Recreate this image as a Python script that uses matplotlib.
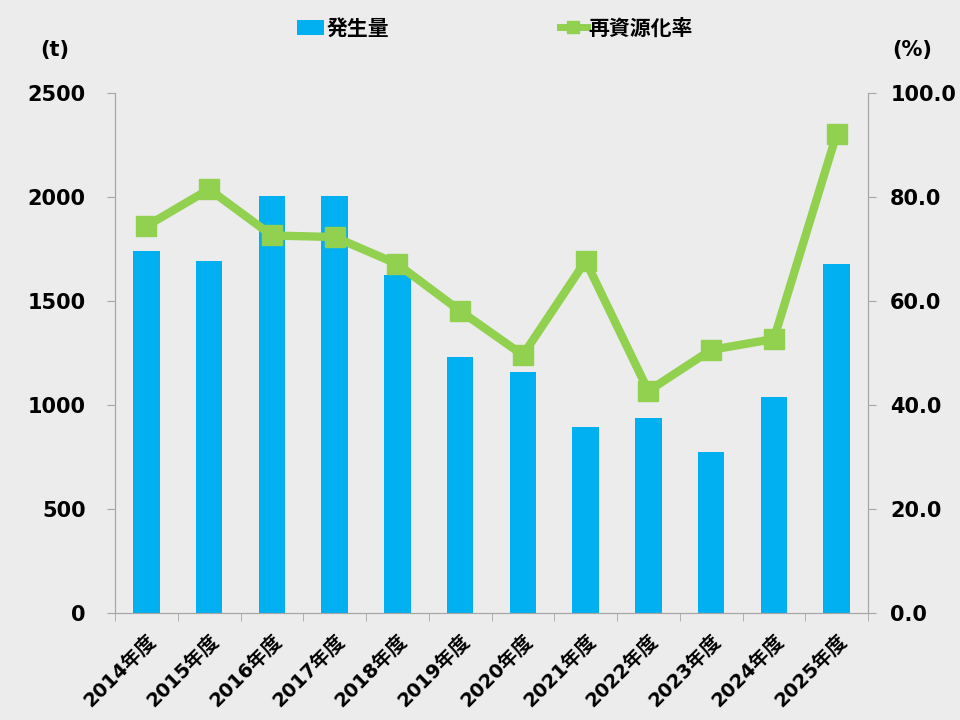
import matplotlib
matplotlib.use("Agg")
import matplotlib.pyplot as plt
import matplotlib.transforms as mtransforms
import numpy as np
from matplotlib.lines import Line2D
from matplotlib.patches import Patch

plt.rcParams['font.family'] = ['DejaVu Sans', 'Noto Sans CJK JP']

years = ["2014年度", "2015年度", "2016年度", "2017年度", "2018年度", "2019年度",
         "2020年度", "2021年度", "2022年度", "2023年度", "2024年度", "2025年度"]
generation = [1740, 1690, 2005, 2005, 1625, 1231, 1159, 894, 936, 774, 1038, 1678]
recycle_rate = [74.4, 81.5, 72.6, 72.3, 67.1, 58.1, 49.6, 67.7, 42.7, 50.6, 52.7, 92.1]
left_ticks = [0, 500, 1000, 1500, 2000, 2500]
right_ticks = [0, 20, 40, 60, 80, 100]

BG = "#ececec"
BLUE = "#00b0f0"
GREEN = "#92d050"
AXC = "#a6a6a6"

fig = plt.figure(figsize=(9.6, 7.2), dpi=100, facecolor=BG)
ax = fig.add_axes([115/960, 1-613/720, 753/960, 520/720])
ax.set_facecolor(BG)
x = np.arange(len(years))
ax.bar(x, generation, width=0.42, color=BLUE, zorder=2)
ax.set_xlim(-0.5, len(years) - 0.5)
ax.set_ylim(0, 2500)
ax.set_yticks(left_ticks)
ax.set_yticklabels([str(v) for v in left_ticks], fontsize=15, fontweight='bold')
ax.set_xticks(x)
ax.set_xticklabels(years, rotation=45, ha='right', va='center', rotation_mode='anchor',
                   fontsize=14, fontweight='bold')
ax.tick_params(axis='x', length=0, pad=18)
offset = mtransforms.ScaledTranslation(7/100, 0, fig.dpi_scale_trans)
for lab in ax.get_xticklabels():
    lab.set_transform(lab.get_transform() + offset)
ax.set_xticks(np.arange(-0.5, len(years), 1), minor=True)
ax.tick_params(axis='x', which='minor', length=6, color=AXC, direction='out')
ax.tick_params(axis='y', length=6, color=AXC, direction='out', pad=15)
ax.spines['top'].set_visible(False)
for s in ['left', 'bottom', 'right']:
    ax.spines[s].set_color(AXC)

ax2 = ax.twinx()
ax2.plot(x, recycle_rate, color=GREEN, lw=6, marker='s', markersize=15, zorder=3)
ax2.set_ylim(0, 100)
ax2.set_yticks(right_ticks)
ax2.set_yticklabels([f"{v:.1f}" for v in right_ticks], fontsize=15, fontweight='bold')
ax2.tick_params(axis='y', length=6, color=AXC, direction='out', pad=10)
ax2.spines['top'].set_visible(False)
for s in ['left', 'bottom', 'right']:
    ax2.spines[s].set_color(AXC)

fig.text(55/960, 1-50/720, "(t)", fontsize=15, fontweight='bold', ha='center', va='center')
fig.text(912/960, 1-50/720, "(%)", fontsize=15, fontweight='bold', ha='center', va='center')

handles = [Patch(facecolor=BLUE, edgecolor='none'),
           Line2D([0], [0], color=GREEN, lw=5, marker='s', markersize=8)]
leg = fig.legend(handles, ["発生量", "再資源化率"], loc='center', bbox_to_anchor=(495/960, 1-28/720),
                 ncol=2, frameon=False,
                 prop={'size': 15, 'weight': 'bold', 'family': ['Noto Sans CJK JP']},
                 columnspacing=8.2, handlelength=1.3, handletextpad=0.1)

fig.savefig("out.png", dpi=100, facecolor=BG)
